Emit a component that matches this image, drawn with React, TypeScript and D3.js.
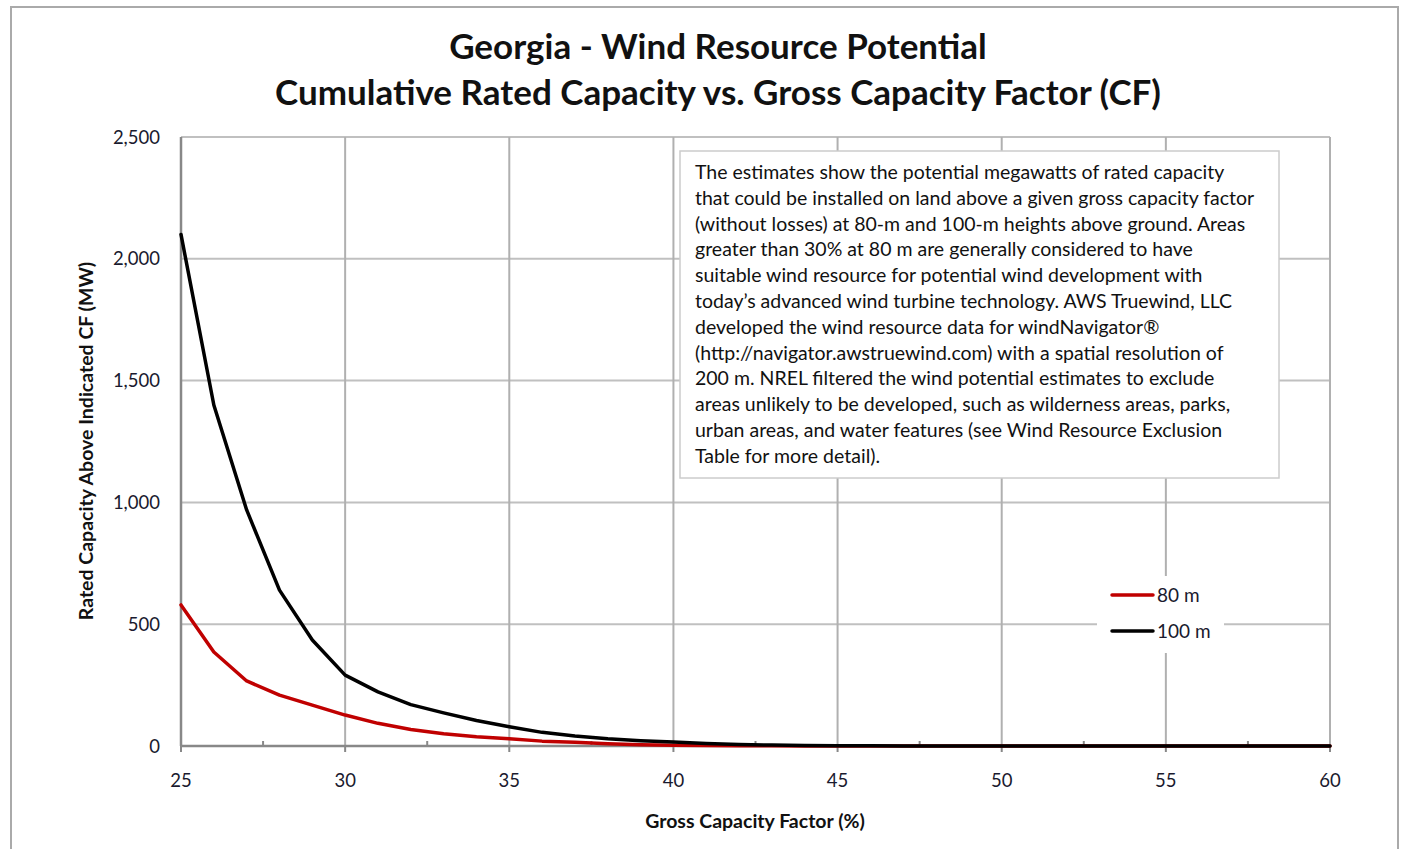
import React from "react";
import * as d3 from "d3";

const cf = [25, 26, 27, 28, 29, 30, 31, 32, 33, 34, 35, 36, 37, 38, 39, 40, 41, 42, 43, 44, 45, 46, 47, 48, 49, 50, 51, 52, 53, 54, 55, 56, 57, 58, 59, 60];
const mw80 = [579, 386, 267, 209, 168, 127, 93, 68, 50, 38, 30, 20, 15, 9, 5, 3, 2, 1, 1, 0, 0, 0, 0, 0, 0, 0, 0, 0, 0, 0, 0, 0, 0, 0, 0, 0];
const mw100 = [2100, 1400, 969, 640, 435, 291, 222, 170, 136, 105, 79, 56, 41, 30, 22, 16, 10, 6, 4, 2, 1, 1, 0, 0, 0, 0, 0, 0, 0, 0, 0, 0, 0, 0, 0, 0];
const xTicks = [25, 30, 35, 40, 45, 50, 55, 60];
const xMinorTicks = [27.5, 32.5, 37.5, 42.5, 47.5, 52.5, 57.5];
const yTicks = [0, 500, 1000, 1500, 2000, 2500];
const seriesNames = ["80 m", "100 m"];
const seriesColors = ["#c00000", "#000000"];
const titleLines = ["Georgia - Wind Resource Potential", "Cumulative Rated Capacity vs. Gross Capacity Factor (CF)"];
const noteLines = [
  "The estimates show the potential megawatts of rated capacity",
  "that could be installed on land above a given gross capacity factor",
  "(without losses) at 80-m and 100-m heights above ground. Areas",
  "greater than 30% at 80 m are generally considered to have",
  "suitable wind resource for potential wind development with",
  "today\u2019s advanced wind turbine technology. AWS Truewind, LLC",
  "developed the wind resource data for windNavigator\u00AE",
  "(http://navigator.awstruewind.com) with a spatial resolution of",
  "200 m. NREL filtered the wind potential estimates to exclude",
  "areas unlikely to be developed, such as wilderness areas, parks,",
  "urban areas, and water features (see Wind Resource Exclusion",
  "Table for more detail).",
];

const FONT = "Lato, 'Open Sans', sans-serif";

export default function App() {
  const x = d3.scaleLinear().domain([25, 60]).range([181, 1330]);
  const y = d3.scaleLinear().domain([0, 2500]).range([746, 137]);
  const line = (vals: number[]) =>
    d3.line<number>().x((_, i) => x(cf[i])).y((v) => y(v))(vals) || "";
  const series = [mw80, mw100];
  const textColor = "#1a1a2e";

  return (
    <div style={{ position: "absolute", left: 0, top: 0 }}>
      <svg width={1408} height={849} style={{ display: "block" }} fontFamily={FONT}>
        <rect x={0} y={0} width={1408} height={849} fill="#fff" />
        <rect x={11} y={7} width={1387} height={860} fill="#fff" stroke="#aaaaaa" strokeWidth={2} />
        {titleLines.map((t, i) => (
          <text key={t} x={718} y={59 + i * 46} textAnchor="middle" fontSize={35} fontWeight={700} fill="#111">
            {t}
          </text>
        ))}
        {/* gridlines */}
        {yTicks.map((v) => (
          <line key={"gy" + v} x1={x(25)} x2={x(60)} y1={y(v)} y2={y(v)} stroke="#c0c0c0" strokeWidth={2} />
        ))}
        {xTicks.map((v) => (
          <line key={"gx" + v} x1={x(v)} x2={x(v)} y1={y(2500)} y2={y(0)} stroke="#b0b0b0" strokeWidth={2} />
        ))}
        {/* axes */}
        <line x1={x(25)} x2={x(25)} y1={y(2500)} y2={y(0)} stroke="#888" strokeWidth={2.5} />
        <line x1={x(25)} x2={x(60)} y1={y(0)} y2={y(0)} stroke="#888" strokeWidth={2.5} />
        {xTicks.map((v) => (
          <line key={"tx" + v} x1={x(v)} x2={x(v)} y1={y(0)} y2={y(0) + 6} stroke="#888" strokeWidth={2} />
        ))}
        {xMinorTicks.map((v) => (
          <line key={"mx" + v} x1={x(v)} x2={x(v)} y1={y(0)} y2={y(0) - 5} stroke="#888" strokeWidth={2} />
        ))}
        {yTicks.map((v) => (
          <text key={"ly" + v} x={160} y={y(v) + 6.5} textAnchor="end" fontSize={18.5} fill={textColor}>
            {d3.format(",")(v)}
          </text>
        ))}
        {xTicks.map((v) => (
          <text key={"lx" + v} x={x(v)} y={787} textAnchor="middle" fontSize={18.5} fill={textColor}>
            {v}
          </text>
        ))}
        <text x={755} y={828} textAnchor="middle" fontSize={19.5} fontWeight={700} fill="#111">
          Gross Capacity Factor (%)
        </text>
        <text transform="translate(93,441) rotate(-90)" textAnchor="middle" fontSize={19.5} fontWeight={700} fill="#111">
          Rated Capacity Above Indicated CF (MW)
        </text>
        {/* series */}
        {series.map((s, i) => (
          <path key={"s" + i} d={line(s)} fill="none" stroke={seriesColors[i]} strokeWidth={3.5} strokeLinejoin="round" strokeLinecap="round" />
        ))}
        {/* note box */}
        <rect x={680} y={151} width={599} height={327} fill="#fff" stroke="#cccccc" strokeWidth={1.5} />
        {noteLines.map((t, i) => (
          <text key={"n" + i} x={695} y={179 + i * 25.8} fontSize={19.5} fill="#111">
            {t}
          </text>
        ))}
        {/* legend */}
        <rect x={1097} y={576} width={127} height={77} fill="#fff" />
        {seriesNames.map((n, i) => (
          <g key={n}>
            <line x1={1112} x2={1153} y1={595 + i * 36} y2={595 + i * 36} stroke={seriesColors[i]} strokeWidth={3.5} strokeLinecap="round" />
            <text x={1157} y={601.5 + i * 36} fontSize={19} fill={textColor}>
              {n}
            </text>
          </g>
        ))}
      </svg>
    </div>
  );
}
